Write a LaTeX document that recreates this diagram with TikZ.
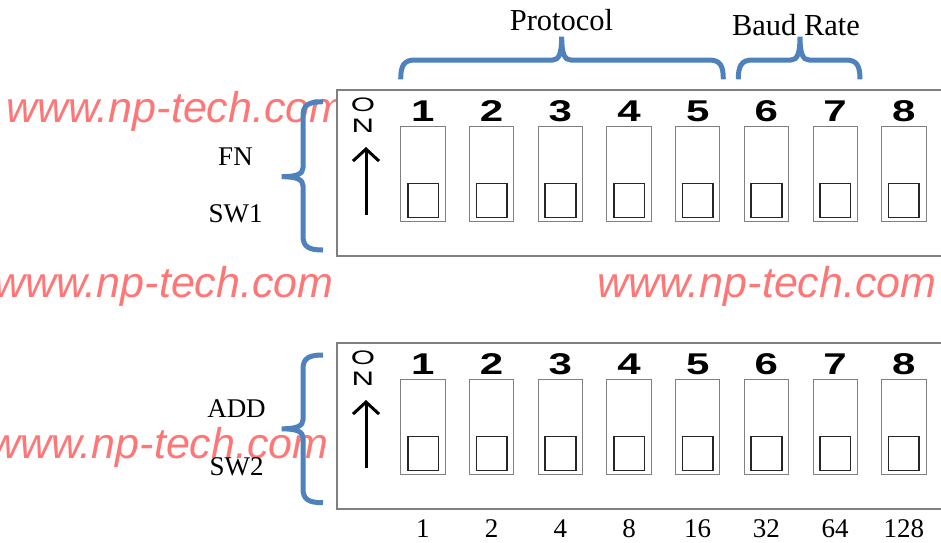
\documentclass[tikz,border=0pt]{standalone}
\usepackage{fontspec}
\setmainfont{Liberation Serif}
\newfontfamily\helv{Liberation Sans}
\newfontfamily\helvnum[FakeStretch=1.4]{Liberation Sans}
\newfontfamily\helvon[FakeStretch=1.6]{Liberation Sans}
\usetikzlibrary{arrows.meta}
\definecolor{wmark}{RGB}{255,118,118}
\definecolor{braceblue}{RGB}{79,129,189}
\begin{document}
\begin{tikzpicture}[x=1pt,y=-1pt,
    watermark/.style={text=wmark, font=\helv\itshape\fontsize{43}{43}\selectfont, anchor=base west, inner sep=0pt},
    label/.style={font=\fontsize{27}{27}\selectfont, anchor=base, inner sep=0pt},
    swnum/.style={font=\helvnum\bfseries\fontsize{30}{30}\selectfont, anchor=base, inner sep=0pt},
    onletter/.style={font=\helvon\fontsize{19.5}{19.5}\selectfont, inner sep=0pt},
    curly/.style={draw=braceblue, line width=5pt}]

    \useasboundingbox (0,0) rectangle (941,542);
    \clip (0,0) rectangle (941,542);

    % Les filigranes
    \node[watermark] (wm1) at (6,122) {www.np-tech.com};
    \node[watermark] (wm2) at (-6,297) {www.np-tech.com};
    \node[watermark] (wm3) at (597,297) {www.np-tech.com};
    \node[watermark] (wm4) at (-11,458) {www.np-tech.com};

    % Les deux boitiers et leurs interrupteurs
    \foreach \b/\dy in {1/0, 2/253} {
        \draw[gray, line width=1.2pt, fill=white] (337,90+\dy) rectangle (960,256+\dy);
        \node[onletter] (on\b O) at (363,105+\dy) {O};
        \node[onletter] (on\b N) at (363,126+\dy) {N};
        \draw[line width=3pt, -{Straight Barb[length=12pt,width=26pt]}] (366,215+\dy) -- (366,147+\dy);
        \foreach \i in {1,...,8} {
            \draw[gray, line width=0.8pt] (400.7+68.7*\i-68.7,126.7+\dy) rectangle ++(44.3,94.3);
            \draw[black!85, line width=1.6pt] (407.7+68.7*\i-68.7,183.3+\dy) rectangle ++(30.6,34);
            \node[swnum] (n\b-\i) at (422.9+68.7*\i-68.7,121+\dy) {\i};
        }
    }

    % Les accolades verticales
    \foreach \ya/\ym/\yb in {101.7/176.7/250, 355/428.8/502.7}
        \draw[curly] (323,\ya) .. controls (309,\ya) and (303,\ya+3) .. (303,\ya+14)
            -- (303,\ym-9) .. controls (303,\ym-3) and (297,\ym) .. (281.7,\ym)
            .. controls (297,\ym) and (303,\ym+3) .. (303,\ym+9)
            -- (303,\yb-14) .. controls (303,\yb-3) and (309,\yb) .. (323,\yb);

    % Les accolades horizontales
    \foreach \xa/\xm/\xb in {400.7/561.7/723.3, 738.3/800/860}
        \draw[curly] (\xa,79.3) .. controls (\xa,66) and (\xa+3,60) .. (\xa+14,60)
            -- (\xm-9,60) .. controls (\xm-3,60) and (\xm,54) .. (\xm,36.7)
            .. controls (\xm,54) and (\xm+3,60) .. (\xm+9,60)
            -- (\xb-14,60) .. controls (\xb-3,60) and (\xb,66) .. (\xb,79.3);

    % Les textes
    \node[font=\fontsize{30.5}{30.5}\selectfont, anchor=base, inner sep=0pt] (protocol) at (561.5,30) {Protocol};
    \node[font=\fontsize{30.5}{30.5}\selectfont, anchor=base, inner sep=0pt] (baud) at (796,35) {Baud Rate};
    \node[label] (fn) at (235.5,165) {FN};
    \node[label] (sw1) at (235.5,222) {SW1};
    \node[label] (add) at (236.5,417) {ADD};
    \node[label] (sw2) at (236.5,475) {SW2};

    % Les poids sous le second boitier
    \foreach \i/\w in {1/1, 2/2, 3/4, 4/8, 5/16, 6/32, 7/64, 8/128}
        \node[label] (w\i) at (422.9+68.7*\i-68.7,537) {\w};

\end{tikzpicture}
\end{document}
